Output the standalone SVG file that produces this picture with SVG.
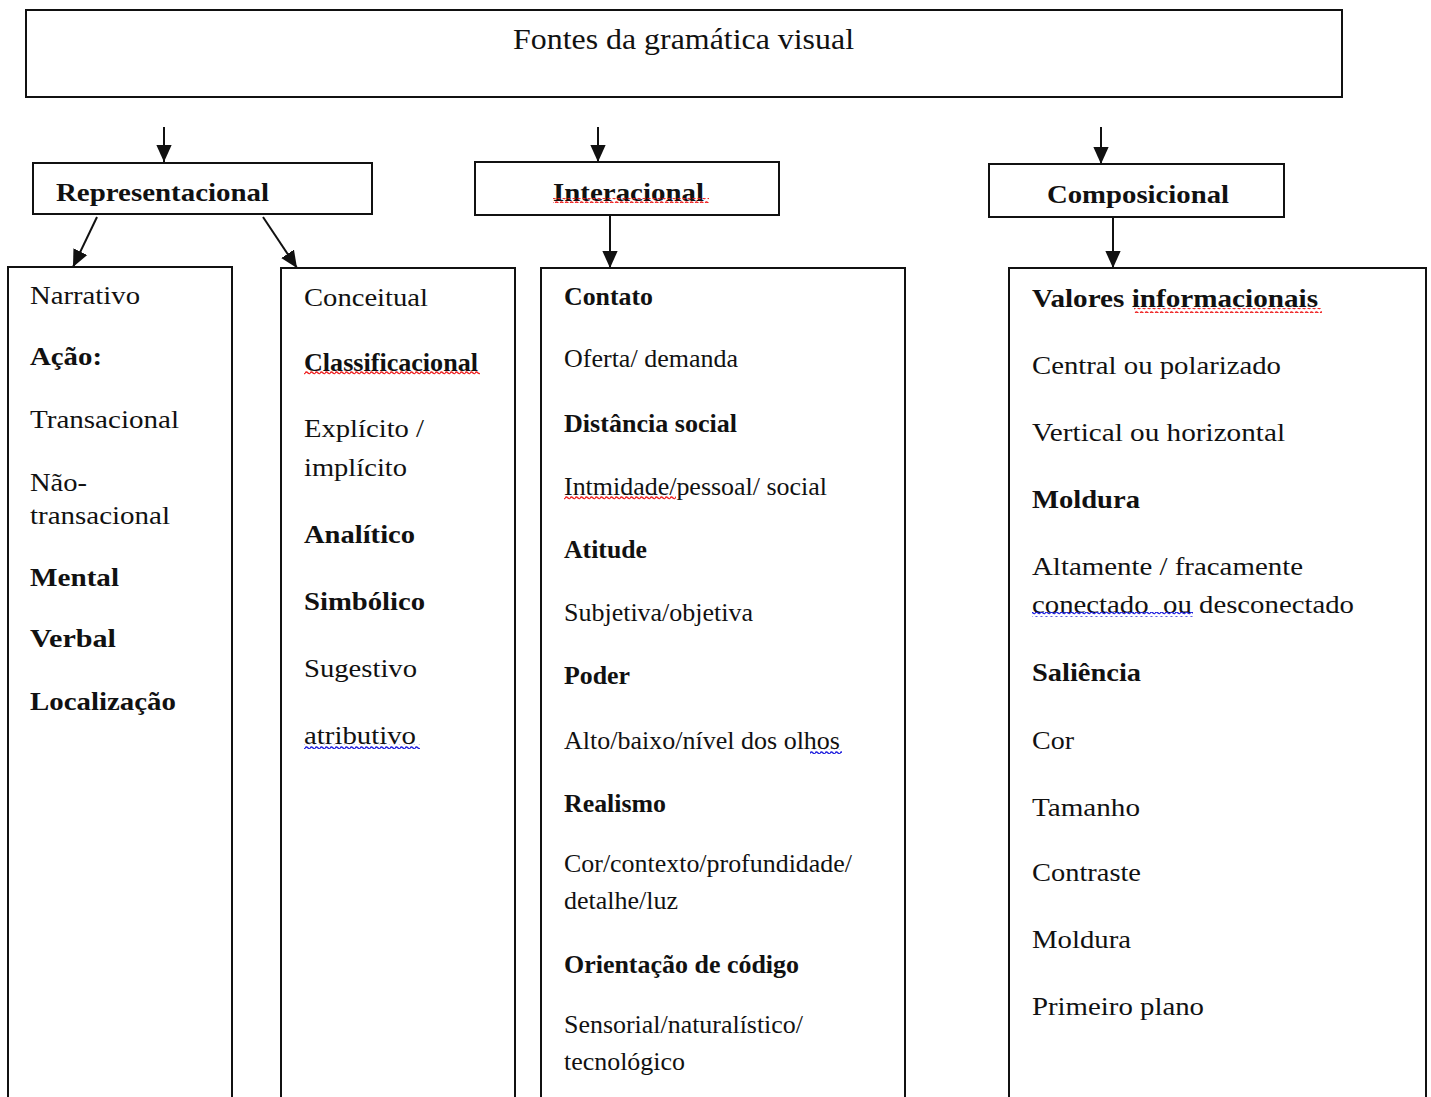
<svg xmlns="http://www.w3.org/2000/svg" width="1431" height="1097" viewBox="0 0 1431 1097">
<style>
.box{fill:#fff;stroke:#111;stroke-width:2}
.t{font-family:"Liberation Serif","Times New Roman",serif;font-size:25px;fill:#111}
.b{font-weight:bold}
.ttl{font-family:"Liberation Serif","Times New Roman",serif;font-size:29px;fill:#111}
.con{stroke:#111;stroke-width:2;fill:none;marker-end:url(#ah)}
</style>
<defs>
<marker id="ah" viewBox="0 0 10 10" refX="10" refY="5" markerWidth="17" markerHeight="17" markerUnits="userSpaceOnUse" orient="auto">
<path d="M0,0.5 L10,5 L0,9.5 Z" fill="#111"/>
</marker>
<pattern id="wr" width="5" height="5" patternUnits="userSpaceOnUse">
<path d="M0,3.5 Q1.25,1 2.5,2.5 T5,3.5" stroke="#e22" stroke-width="1.4" fill="none"/>
</pattern>
<pattern id="wb" width="5" height="5" patternUnits="userSpaceOnUse">
<path d="M0,3.5 Q1.25,1 2.5,2.5 T5,3.5" stroke="#22d" stroke-width="1.4" fill="none"/>
</pattern>
</defs>
<rect width="1431" height="1097" fill="#fff"/>

<g id="connectors">
<line class="con" x1="164" y1="127" x2="164" y2="162"/>
<line class="con" x1="598" y1="127" x2="598" y2="162"/>
<line class="con" x1="1101" y1="127" x2="1101" y2="164"/>
<line class="con" x1="97" y1="217" x2="73" y2="267"/>
<line class="con" x1="263" y1="217" x2="297" y2="268"/>
<line class="con" x1="610" y1="215" x2="610" y2="268"/>
<line class="con" x1="1113" y1="217" x2="1113" y2="268"/>
</g>

<g id="title">
<rect class="box" x="26" y="10" width="1316" height="87"/>
<text class="ttl" x="513" y="49" textLength="341" lengthAdjust="spacingAndGlyphs">Fontes da gramática visual</text>
</g>

<g id="representacional">
<rect class="box" x="33" y="163" width="339" height="51"/>
<text class="t b" x="56" y="201" textLength="213" lengthAdjust="spacingAndGlyphs">Representacional</text>
</g>

<g id="interacional">
<rect class="box" x="475" y="162" width="304" height="53"/>
<text class="t b" x="553" y="201" textLength="151" lengthAdjust="spacingAndGlyphs">Interacional</text>
<rect x="553" y="198" width="156" height="5" fill="url(#wr)"/>
</g>

<g id="composicional">
<rect class="box" x="989" y="164" width="295" height="53"/>
<text class="t b" x="1047" y="203" textLength="182" lengthAdjust="spacingAndGlyphs">Composicional</text>
</g>

<g id="narrativo">
<path class="box" d="M8,1100 L8,267 L232,267 L232,1100"/>
<text class="t" x="30" y="304" textLength="110" lengthAdjust="spacingAndGlyphs">Narrativo</text>
<text class="t b" x="30" y="365" textLength="72" lengthAdjust="spacingAndGlyphs">Ação:</text>
<text class="t" x="30" y="428" textLength="149" lengthAdjust="spacingAndGlyphs">Transacional</text>
<text class="t" x="30" y="491" textLength="57" lengthAdjust="spacingAndGlyphs">Não-</text>
<text class="t" x="30" y="524" textLength="140" lengthAdjust="spacingAndGlyphs">transacional</text>
<text class="t b" x="30" y="586" textLength="89" lengthAdjust="spacingAndGlyphs">Mental</text>
<text class="t b" x="30" y="647" textLength="86" lengthAdjust="spacingAndGlyphs">Verbal</text>
<text class="t b" x="30" y="710" textLength="146" lengthAdjust="spacingAndGlyphs">Localização</text>
</g>

<g id="conceitual">
<path class="box" d="M281,1100 L281,268 L515,268 L515,1100"/>
<text class="t" x="304" y="306" textLength="124" lengthAdjust="spacingAndGlyphs">Conceitual</text>
<text class="t b" x="304" y="371" textLength="174" lengthAdjust="spacingAndGlyphs">Classificacional</text>
<rect x="304" y="371" width="176" height="5" fill="url(#wr)"/>
<text class="t" x="304" y="437" textLength="120" lengthAdjust="spacingAndGlyphs">Explícito /</text>
<text class="t" x="304" y="476" textLength="103" lengthAdjust="spacingAndGlyphs">implícito</text>
<text class="t b" x="304" y="543" textLength="111" lengthAdjust="spacingAndGlyphs">Analítico</text>
<text class="t b" x="304" y="610" textLength="121" lengthAdjust="spacingAndGlyphs">Simbólico</text>
<text class="t" x="304" y="677" textLength="113" lengthAdjust="spacingAndGlyphs">Sugestivo</text>
<text class="t" x="304" y="744" textLength="112" lengthAdjust="spacingAndGlyphs">atributivo</text>
<rect x="304" y="744" width="116" height="5" fill="url(#wb)"/>
</g>

<g id="contato">
<path class="box" d="M541,1100 L541,268 L905,268 L905,1100"/>
<text class="t b" x="564" y="305" textLength="89" lengthAdjust="spacingAndGlyphs">Contato</text>
<text class="t" x="564" y="367" textLength="174" lengthAdjust="spacingAndGlyphs">Oferta/ demanda</text>
<text class="t b" x="564" y="432" textLength="173" lengthAdjust="spacingAndGlyphs">Distância social</text>
<text class="t" x="564" y="495" textLength="263" lengthAdjust="spacingAndGlyphs">Intmidade/pessoal/ social</text>
<rect x="564" y="495" width="112" height="5" fill="url(#wr)"/>
<text class="t b" x="564" y="558" textLength="83" lengthAdjust="spacingAndGlyphs">Atitude</text>
<text class="t" x="564" y="621" textLength="189" lengthAdjust="spacingAndGlyphs">Subjetiva/objetiva</text>
<text class="t b" x="564" y="684" textLength="66" lengthAdjust="spacingAndGlyphs">Poder</text>
<text class="t" x="564" y="749" textLength="276" lengthAdjust="spacingAndGlyphs">Alto/baixo/nível dos olhos</text>
<rect x="810" y="749" width="32" height="5" fill="url(#wb)"/>
<text class="t b" x="564" y="812" textLength="102" lengthAdjust="spacingAndGlyphs">Realismo</text>
<text class="t" x="564" y="872" textLength="288" lengthAdjust="spacingAndGlyphs">Cor/contexto/profundidade/</text>
<text class="t" x="564" y="909" textLength="114" lengthAdjust="spacingAndGlyphs">detalhe/luz</text>
<text class="t b" x="564" y="973" textLength="235" lengthAdjust="spacingAndGlyphs">Orientação de código</text>
<text class="t" x="564" y="1033" textLength="239" lengthAdjust="spacingAndGlyphs">Sensorial/naturalístico/</text>
<text class="t" x="564" y="1070" textLength="121" lengthAdjust="spacingAndGlyphs">tecnológico</text>
</g>

<g id="valores">
<path class="box" d="M1009,1100 L1009,268 L1426,268 L1426,1100"/>
<text class="t b" x="1032" y="307" textLength="286" lengthAdjust="spacingAndGlyphs">Valores informacionais</text>
<rect x="1134" y="308" width="188" height="5" fill="url(#wr)"/>
<text class="t" x="1032" y="374" textLength="249" lengthAdjust="spacingAndGlyphs">Central ou polarizado</text>
<text class="t" x="1032" y="441" textLength="253" lengthAdjust="spacingAndGlyphs">Vertical ou horizontal</text>
<text class="t b" x="1032" y="508" textLength="108" lengthAdjust="spacingAndGlyphs">Moldura</text>
<text class="t" x="1032" y="575" textLength="271" lengthAdjust="spacingAndGlyphs">Altamente / fracamente</text>
<text class="t" x="1032" y="613" textLength="322" lengthAdjust="spacingAndGlyphs" xml:space="preserve">conectado  ou desconectado</text>
<rect x="1032" y="612" width="161" height="5" fill="url(#wb)"/>
<text class="t b" x="1032" y="681" textLength="109" lengthAdjust="spacingAndGlyphs">Saliência</text>
<text class="t" x="1032" y="749" textLength="42" lengthAdjust="spacingAndGlyphs">Cor</text>
<text class="t" x="1032" y="816" textLength="108" lengthAdjust="spacingAndGlyphs">Tamanho</text>
<text class="t" x="1032" y="881" textLength="109" lengthAdjust="spacingAndGlyphs">Contraste</text>
<text class="t" x="1032" y="948" textLength="99" lengthAdjust="spacingAndGlyphs">Moldura</text>
<text class="t" x="1032" y="1015" textLength="172" lengthAdjust="spacingAndGlyphs">Primeiro plano</text>
</g>
</svg>
